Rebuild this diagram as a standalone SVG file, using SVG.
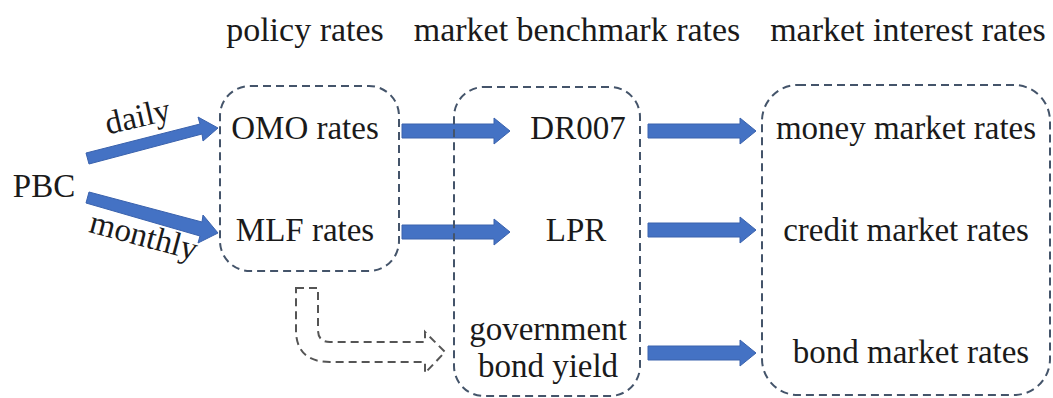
<svg xmlns="http://www.w3.org/2000/svg" width="1053" height="398" viewBox="0 0 1053 398" font-family="Liberation Serif, Times New Roman, DejaVu Serif, serif">
<style>
text{font-family:'Liberation Serif','Times New Roman','DejaVu Serif',serif;font-size:33px;fill:#1a1a1a}
.h{font-size:34px}
.box{fill:none;stroke:#44546a;stroke-width:2;stroke-dasharray:8 5}
.arr{fill:#4472c4;stroke:#3a62ad;stroke-width:1}
.hook{fill:none;stroke:#555;stroke-width:2;stroke-dasharray:8 5}
</style>
<defs>
<path id="ha" d="M0,-7 L92,-7 L92,-13 L108,0 L92,13 L92,7 L0,7 Z"/>
</defs>
<rect width="1053" height="398" fill="#fff"/>
<g id="headers">
<text class="h" x="305" y="41" text-anchor="middle">policy rates</text>
<text class="h" x="577" y="41" text-anchor="middle">market benchmark rates</text>
<text class="h" x="908" y="41" text-anchor="middle">market interest rates</text>
</g>
<g id="connectors">
<path class="arr" d="M86,153 L200,124 L198,117 L218,128 L203,141 L202,134 L89,164 Z"/>
<path class="arr" d="M89,192 L202,222 L203,215 L218,233 L198,243 L200,236 L86,203 Z"/>
<use href="#ha" class="arr" transform="translate(402,131)"/>
<use href="#ha" class="arr" transform="translate(402,232)"/>
<use href="#ha" class="arr" transform="translate(648,131)"/>
<use href="#ha" class="arr" transform="translate(648,230)"/>
<use href="#ha" class="arr" transform="translate(648,353)"/>
<path class="hook" d="M296,288 L318,288 L318,330 Q318,342 330,342 L425,342 L425,332 L445,352 L425,373 L425,362 L330,362 Q296,362 296,330 Z"/>
<text x="140" y="127" text-anchor="middle" transform="rotate(-13 140 127)">daily</text>
<text x="141" y="246" text-anchor="middle" transform="rotate(15 141 246)">monthly</text>
</g>
<g id="pbc"><text x="44" y="197" text-anchor="middle">PBC</text></g>
<g id="policy">
<rect class="box" x="220" y="86" width="179" height="185" rx="30"/>
<text x="305" y="139" text-anchor="middle">OMO rates</text>
<text x="305" y="241" text-anchor="middle">MLF rates</text>
</g>
<g id="benchmark">
<rect class="box" x="454" y="87" width="186" height="309" rx="30"/>
<text x="578" y="139" text-anchor="middle">DR007</text>
<text x="576" y="241" text-anchor="middle">LPR</text>
<text x="548" y="340" text-anchor="middle">government</text>
<text x="548" y="377" text-anchor="middle">bond yield</text>
</g>
<g id="interest">
<rect class="box" x="762" y="85" width="288" height="310" rx="36"/>
<text x="906" y="139" text-anchor="middle">money market rates</text>
<text x="906" y="241" text-anchor="middle">credit market rates</text>
<text x="911" y="363" text-anchor="middle">bond market rates</text>
</g>
</svg>
